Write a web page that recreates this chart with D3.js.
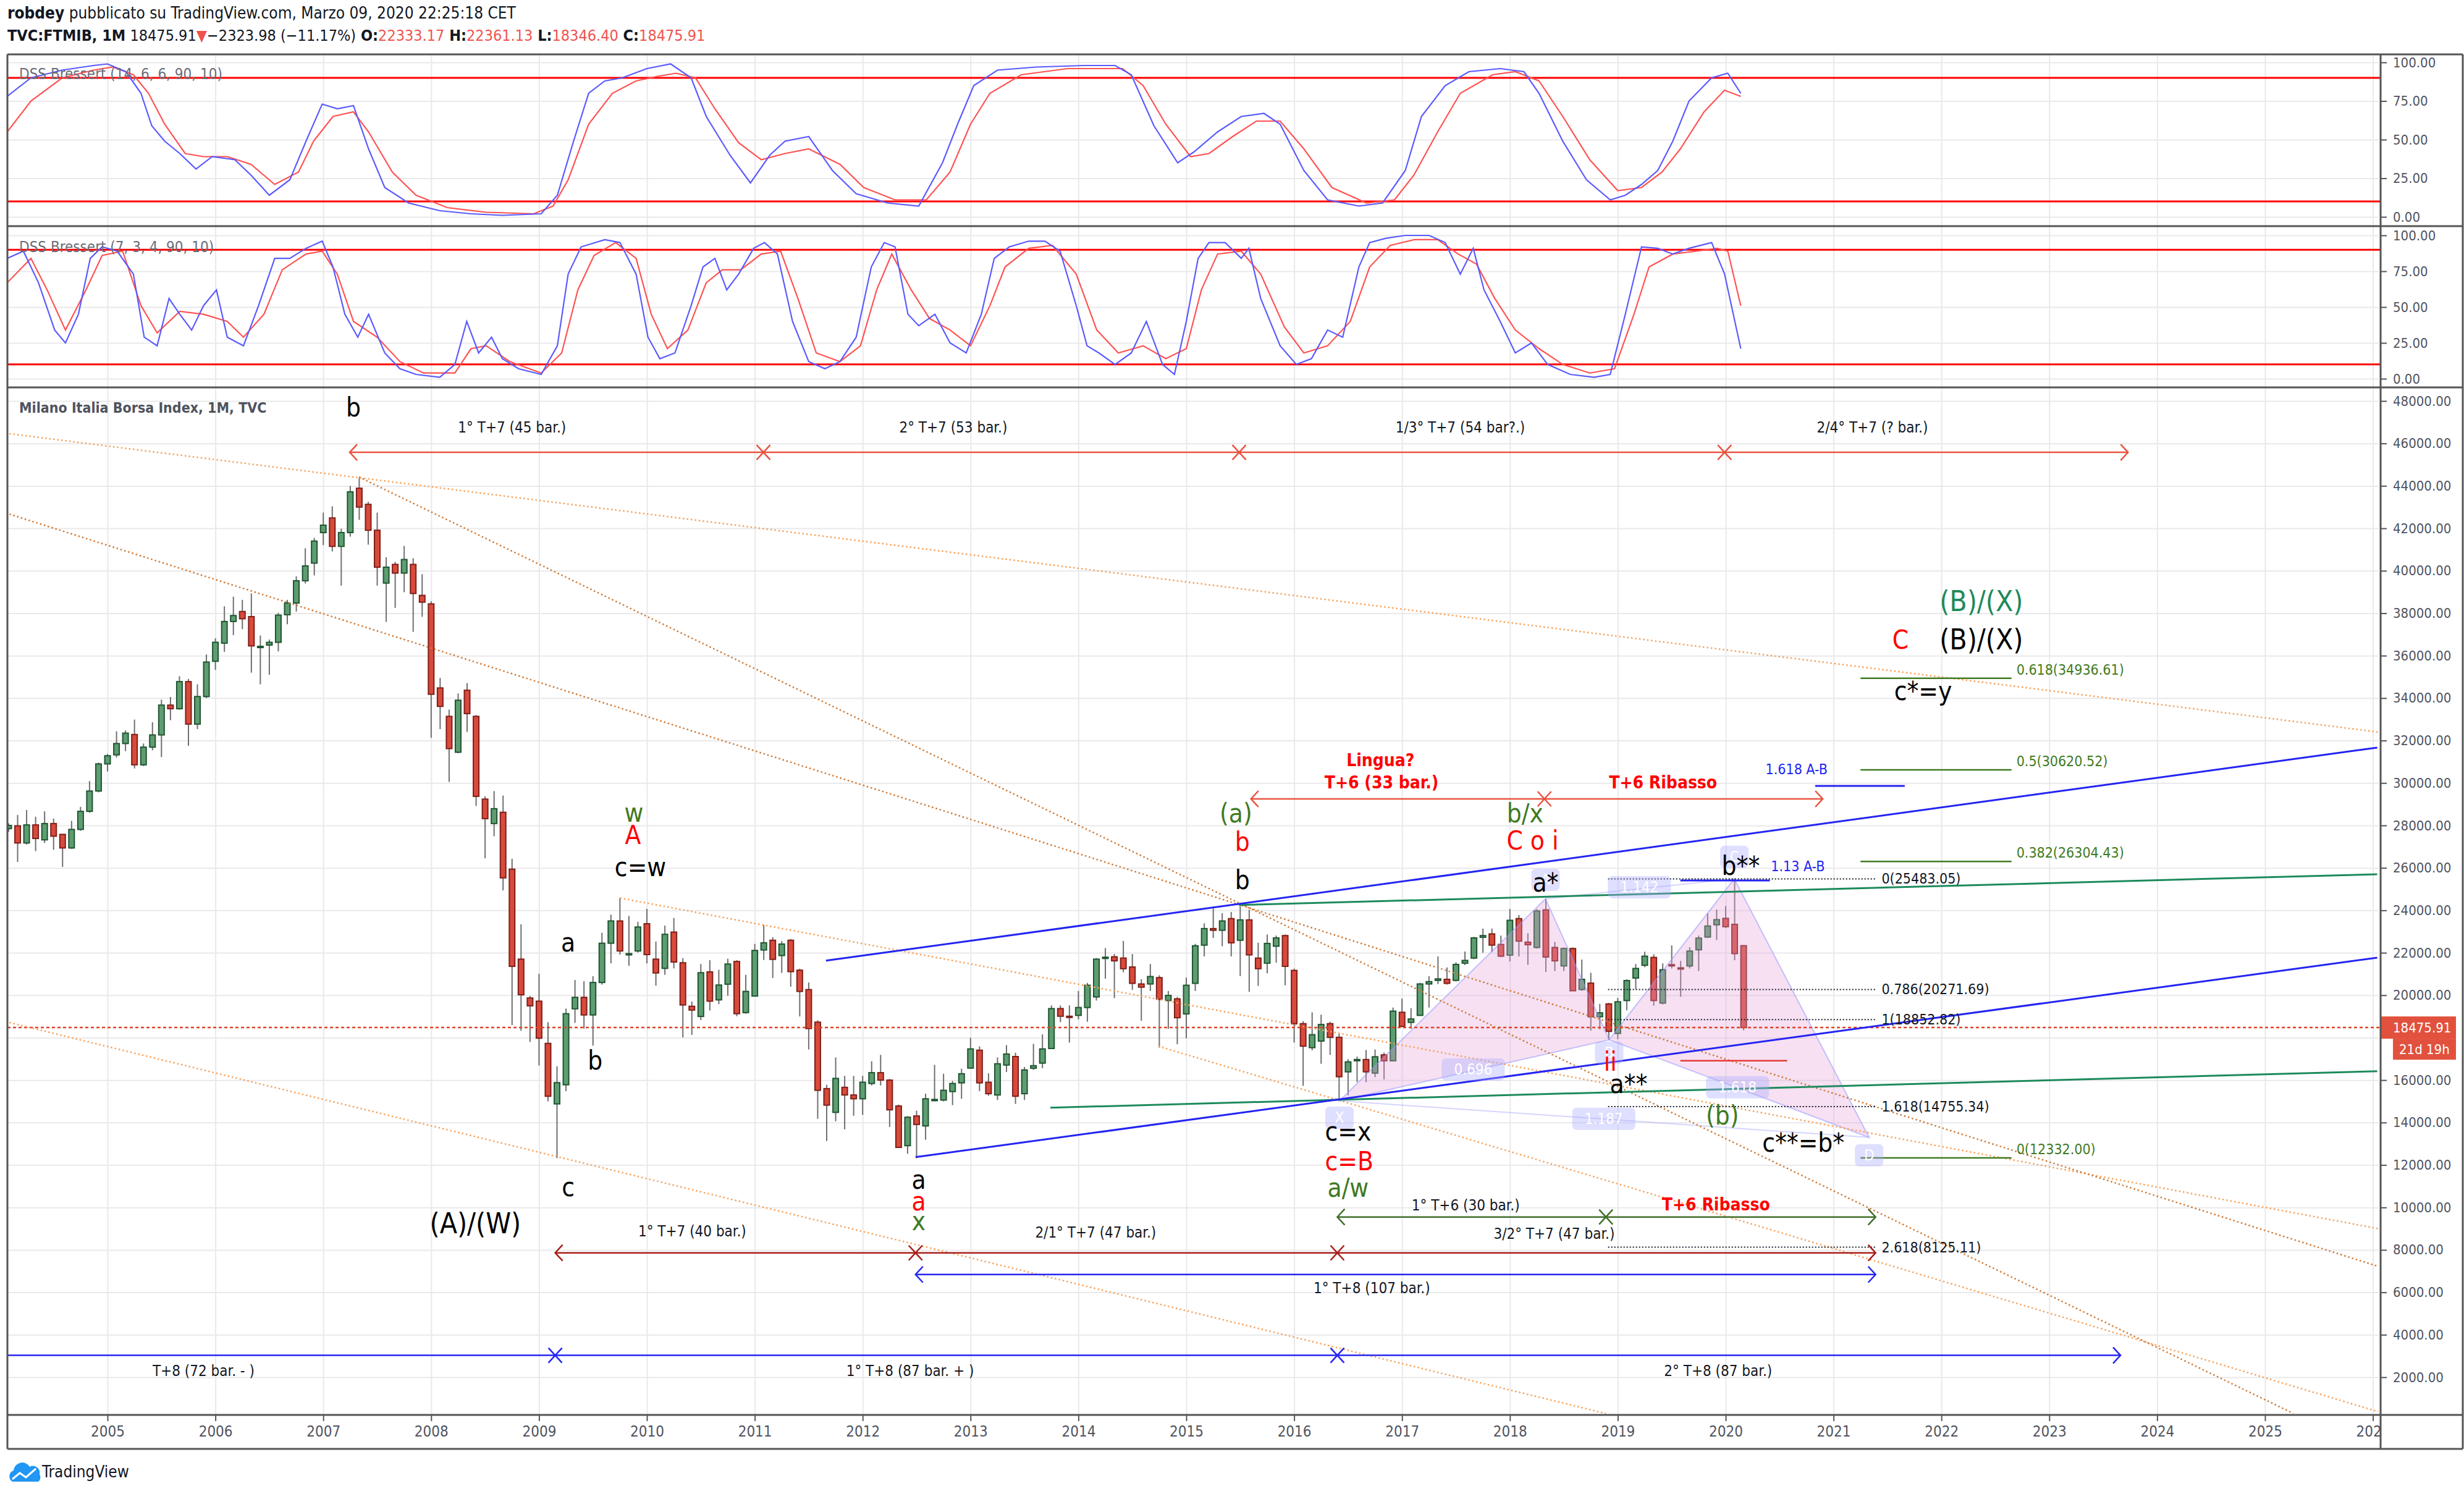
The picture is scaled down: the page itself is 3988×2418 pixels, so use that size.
<!DOCTYPE html>
<html>
<head>
<meta charset="utf-8">
<script src="https://cdnjs.cloudflare.com/ajax/libs/d3/7.8.5/d3.min.js"></script>
<style>
html, body { margin: 0; padding: 0; background: #fff; }
svg { display: block; font-family: "DejaVu Sans Condensed", "DejaVu Sans", sans-serif; }
</style>
</head>
<body>
<svg id="chart" width="3988" height="2418"></svg>
<script>
// ---- monthly FTSE MIB candles, Feb 2004 .. Mar 2020 ----
var firstMonth = [2004, 2];
var opens = [
  27850,27982,27173,28025,27322,28089,27578,26939,27812,28664,29622,
  30900,31327,31860,32285,30857,31690,32264,33670,33500,34777,32775,34074,
  35735,36590,37610,38080,37840,36420,36500,36630,37930,38480,39530,40360,
  41800,42490,41150,41800,43890,43130,41910,39420,40300,39890,40300,38840,
  38440,34480,33140,31450,34370,33140,29240,28090,28620,25940,21700,19870,
  19720,17730,14880,15780,19360,19900,19070,20600,22450,23500,21900,22085,
  23370,21700,21265,22975,21530,19480,19000,21100,19780,20520,21590,19180,
  19960,22130,22590,21870,22590,21180,20265,18730,15600,14480,15660,15300,
  15120,15840,16350,16000,14780,12910,14310,13840,15060,15060,15460,15870,
  16565,17410,15900,15300,16710,17110,15360,16560,16800,17490,19370,19010,
  19050,19420,19920,21750,21810,21750,21330,20530,20530,20830,19750,19830,
  19120,20560,22360,23140,23060,23610,22590,23550,21750,21510,22310,22810,
  21170,18660,17530,17840,18660,18015,16390,16950,16970,16330,17190,16910,
  19195,18720,19050,20530,20700,20750,20700,21510,21750,22730,22890,22390,
  21890,23610,22500,22250,24020,22250,21380,22200,20270,20570,18985,19590,
  18200,19750,20810,21410,21780,19630,21440,21290,21380,22140,22740,23320,
  23620,23340,22333.17];
var highs = [
  28100,28494,28728,28408,28664,28323,27600,28216,28877,30091,30964,
  31370,32434,32477,32988,31860,32860,33925,34053,35032,34904,34650,36055,
  36820,38330,38780,38630,38930,36950,36760,38020,38630,39740,41060,41550,
  42740,43040,41980,44000,44360,43250,42740,40640,40420,41170,40590,39840,
  38570,34950,33460,34220,34710,33200,29370,29620,29410,26430,23340,19960,
  21010,18730,16650,19370,20720,20660,20900,22940,23800,24580,23735,23460,
  24070,22530,23280,23640,21750,19700,21470,21650,21200,21720,21650,20960,
  22420,23310,22735,22550,22650,21250,20600,18820,15780,17070,16200,16200,
  16200,16890,17190,16050,14850,14300,14560,15360,16720,16300,15960,16540,
  17990,17590,16320,17070,17650,17290,16620,17710,18155,19520,19520,19520,
  20200,20580,21750,22220,21940,22560,21940,20750,21470,20940,20200,19920,
  20830,22420,23390,24090,23865,23920,24200,24030,22470,22860,22810,22860,
  21250,18780,19195,19085,18750,18190,16990,17110,17420,17440,17300,19420,
  19840,19390,20585,20900,21830,21310,21550,22060,22750,23140,23140,22810,
  24065,23780,22920,24060,24544,22510,22250,22250,21680,21055,19590,19640,
  19870,20750,21470,22050,21925,21500,22350,21620,22265,22810,23860,24040,
  24200,25483.05,22361.13];
var lows = [
  27700,26278,27100,26790,27173,26854,26044,26900,27750,28600,29560,
  30540,31200,31500,30687,30800,31540,31220,32960,33450,31753,32540,34000,
  35330,36180,36970,37250,35200,34650,35100,36200,37480,38080,39400,39780,
  41210,40910,39300,41610,42400,41230,39300,37590,38250,38990,37120,37830,
  32130,32540,30050,31400,32410,28920,26450,27490,24940,18590,18330,17800,
  16690,15000,12320,15480,18700,18430,17625,20500,21500,21915,21385,22010,
  21500,20450,20960,21265,18010,18130,18830,19280,19580,19975,19010,19130,
  19940,21660,20810,21050,20400,19000,17445,14180,13130,14060,13680,14320,
  14360,15750,15750,13790,12800,12530,12320,13190,15000,15000,14820,15120,
  16560,15480,15260,15060,16380,14880,15060,16480,16560,17490,18730,17770,
  18860,18750,19750,20780,19860,21080,20250,18800,20200,17530,18420,17690,
  17970,20200,21830,22700,22310,21830,20900,20160,20440,21030,21530,20470,
  17770,15730,17400,16770,17190,15025,15280,15910,15910,16140,16030,16880,
  18500,18420,19030,19420,20530,20500,20650,21420,21700,22000,22030,21800,
  21590,21830,21430,22200,21100,21140,21140,20200,20210,18330,18390,17900,
  17930,19290,20290,21320,19505,19570,21260,19930,21260,21140,22700,22600,
  23170,21650,18346.40];
var closes = [
  28000,27173,28025,27386,28089,27493,26939,27812,28664,29622,30900,
  31284,31860,32350,30857,31690,32264,33670,33500,34777,32775,34074,35700,
  36630,37610,37890,37740,36460,36440,36630,37910,38480,39530,40230,41400,
  42150,41150,41800,43720,43000,41910,40170,40170,39890,40530,38930,38520,
  34180,33610,31620,33900,33270,29370,28320,28790,25530,21360,20020,19500,
  17975,15240,15880,19130,19900,19070,20600,22450,23500,22085,21960,23215,
  21915,21050,22870,21565,19540,19300,21060,19720,20480,21470,19130,20180,
  22110,22470,21690,22410,21110,20180,18430,15520,14820,16080,15300,15120,
  15900,16350,16000,14600,12830,14250,13910,15120,15090,15520,15840,16300,
  17470,15870,15360,16770,17230,15240,16480,16680,17470,19370,19010,18975,
  19420,20470,21700,21790,21620,21250,20560,20380,20880,19810,19990,18940,
  20470,22330,23140,23060,23500,22470,23550,21900,21250,22440,22700,21360,
  18660,17600,18140,18620,18015,16160,16860,16970,16390,17100,16910,19250,
  18530,18880,20530,20640,20770,20560,21450,21640,22700,22810,22360,21840,
  23530,22550,22380,23970,21800,21620,22200,20210,20750,18985,19170,18295,
  19690,20690,21260,21840,19750,21200,21420,21280,22080,22690,23260,23560,
  23230,21960,18475.91];
var lastPrice = 18475.91;

// ---- DSS Bressert: [decimal year, value] ----
var dss1Blue = [[2004.07,78],[2004.29,90],[2004.58,95],[2004.87,98],[2005.00,99],[2005.17,94],[2005.31,80],[2005.41,59],
  [2005.53,49],[2005.67,41],[2005.82,31],[2005.97,39],[2006.18,37],[2006.33,27],[2006.50,14],[2006.69,24],[2006.84,49],
  [2006.99,73],[2007.13,70],[2007.28,72],[2007.42,44],[2007.57,19],[2007.79,9],[2008.08,4],[2008.37,2],[2008.66,1],
  [2009.02,2],[2009.17,14],[2009.32,49],[2009.46,80],[2009.61,88],[2009.77,90],[2010.00,96],[2010.22,99],[2010.41,90],
  [2010.55,65],[2010.77,40],[2010.96,22],[2011.14,40],[2011.28,49],[2011.50,52],[2011.72,30],[2011.94,15],[2012.23,9],
  [2012.52,7],[2012.74,35],[2012.88,60],[2013.03,85],[2013.25,95],[2013.61,97],[2014.05,98],[2014.34,98],[2014.49,92],
  [2014.70,59],[2014.92,35],[2015.07,42],[2015.29,55],[2015.51,65],[2015.72,67],[2015.87,60],[2016.09,30],[2016.31,11],
  [2016.60,7],[2016.82,9],[2017.03,30],[2017.18,65],[2017.40,85],[2017.62,94],[2017.91,96],[2018.13,94],[2018.27,80],
  [2018.49,49],[2018.71,24],[2018.93,11],[2019.07,14],[2019.22,21],[2019.37,30],[2019.51,49],[2019.66,75],[2019.87,90],
  [2020.02,93],[2020.14,80]];
var dss1Red = [[2004.07,55],[2004.29,75],[2004.58,90],[2004.87,95],[2005.05,97],[2005.24,92],[2005.38,80],[2005.53,60],
  [2005.72,41],[2005.89,39],[2006.11,39],[2006.33,34],[2006.55,21],[2006.77,29],[2006.91,49],[2007.09,65],[2007.28,68],
  [2007.42,55],[2007.64,29],[2007.86,14],[2008.15,6],[2008.51,3],[2008.95,2],[2009.13,7],[2009.27,24],[2009.46,60],
  [2009.68,80],[2009.90,88],[2010.10,91],[2010.27,93],[2010.45,90],[2010.63,70],[2010.85,48],[2011.06,37],[2011.28,41],
  [2011.50,44],[2011.79,34],[2012.01,19],[2012.30,11],[2012.59,11],[2012.81,29],[2013.00,60],[2013.18,80],[2013.47,92],
  [2013.90,96],[2014.41,96],[2014.60,85],[2014.81,60],[2015.04,39],[2015.21,41],[2015.43,52],[2015.65,62],[2015.87,62],
  [2016.09,44],[2016.35,19],[2016.67,9],[2016.93,11],[2017.11,27],[2017.33,55],[2017.54,80],[2017.84,92],[2018.05,94],
  [2018.27,88],[2018.49,65],[2018.74,37],[2019.00,17],[2019.22,19],[2019.41,29],[2019.58,44],[2019.80,68],[2019.99,82],
  [2020.14,78]];
var dss2Blue = [[2004.07,84],[2004.22,89],[2004.36,67],[2004.51,34],[2004.61,25],[2004.73,45],[2004.84,84],[2004.95,92],
  [2005.09,89],[2005.24,73],[2005.34,29],[2005.46,23],[2005.57,56],[2005.67,45],[2005.78,34],[2005.89,51],[2006.01,62],
  [2006.11,29],[2006.26,23],[2006.40,51],[2006.55,84],[2006.69,84],[2006.84,91],[2006.99,96],[2007.09,78],[2007.20,45],
  [2007.32,29],[2007.42,45],[2007.57,18],[2007.71,7],[2007.86,3],[2008.08,1],[2008.22,10],[2008.33,40],[2008.44,18],
  [2008.56,29],[2008.66,14],[2008.81,7],[2009.02,3],[2009.17,23],[2009.27,73],[2009.39,92],[2009.61,97],[2009.75,95],
  [2009.90,73],[2010.01,29],[2010.12,14],[2010.26,18],[2010.41,51],[2010.52,78],[2010.63,84],[2010.74,62],[2010.85,73],
  [2010.99,91],[2011.09,95],[2011.21,87],[2011.35,40],[2011.50,12],[2011.65,7],[2011.79,12],[2011.94,29],[2012.08,78],
  [2012.20,95],[2012.30,92],[2012.42,45],[2012.52,37],[2012.67,45],[2012.81,25],[2012.96,18],[2013.10,45],[2013.22,84],
  [2013.36,92],[2013.54,96],[2013.69,96],[2013.83,89],[2013.98,51],[2014.08,23],[2014.19,18],[2014.34,10],[2014.49,18],
  [2014.63,40],[2014.78,10],[2014.89,3],[2015.00,40],[2015.11,84],[2015.21,95],[2015.36,95],[2015.51,84],[2015.58,91],
  [2015.69,56],[2015.87,23],[2016.02,10],[2016.16,14],[2016.31,34],[2016.45,29],[2016.60,78],[2016.70,95],[2016.85,98],
  [2017.03,100],[2017.25,100],[2017.40,95],[2017.54,73],[2017.66,91],[2017.76,62],[2017.91,40],[2018.05,18],[2018.20,25],
  [2018.35,10],[2018.56,3],[2018.78,1],[2018.93,3],[2019.07,45],[2019.22,92],[2019.37,91],[2019.51,87],[2019.66,91],
  [2019.87,95],[2019.99,73],[2020.14,21]];
var dss2Red = [[2004.07,67],[2004.29,84],[2004.44,62],[2004.61,34],[2004.80,62],[2004.95,86],[2005.14,89],[2005.31,51],
  [2005.46,32],[2005.67,47],[2005.89,45],[2006.11,40],[2006.26,29],[2006.45,45],[2006.62,76],[2006.84,87],[2006.99,89],
  [2007.13,73],[2007.28,40],[2007.50,29],[2007.71,12],[2007.93,4],[2008.22,4],[2008.37,21],[2008.51,23],[2008.73,12],
  [2009.02,4],[2009.21,18],[2009.36,62],[2009.51,86],[2009.71,95],[2009.90,84],[2010.04,45],[2010.19,21],[2010.38,34],
  [2010.55,67],[2010.70,76],[2010.87,76],[2011.06,87],[2011.24,89],[2011.40,56],[2011.57,18],[2011.79,12],[2011.98,23],
  [2012.13,62],[2012.27,87],[2012.45,62],[2012.62,42],[2012.81,34],[2013.00,23],[2013.18,51],[2013.32,78],[2013.54,91],
  [2013.76,93],[2013.98,73],[2014.17,34],[2014.37,18],[2014.60,23],[2014.81,14],[2015.00,21],[2015.14,62],[2015.29,87],
  [2015.51,89],[2015.69,73],[2015.91,36],[2016.09,18],[2016.31,23],[2016.52,40],[2016.70,78],[2016.89,93],[2017.11,97],
  [2017.33,97],[2017.52,87],[2017.69,80],[2017.86,56],[2018.05,34],[2018.27,21],[2018.49,10],[2018.74,4],[2018.97,7],
  [2019.15,45],[2019.29,78],[2019.51,87],[2019.73,89],[2019.92,91],[2020.02,89],[2020.14,51]];
var dssLevels = [90, 10];

// ---- axis ticks ----
var yearTicks = d3.range(2005, 2027);
var priceTicks = d3.range(2000, 48001, 2000);
var oscTicks = [0, 25, 50, 75, 100];

// ---- drawings, in [year, price] ----
var lightDotted = [[[2004.09,46460],[2026.05,32400]], [[2004.09,18715],[2018.89,290]],
                   [[2014.74,17600],[2026.05,375]], [[2009.75,24580],[2026.05,9000]]];
var darkDotted = [[[2004.09,42670],[2026.05,7220]], [[2007.33,44420],[2025.26,300]]];
var blueLines = [[[2011.66,21630],[2026.04,31670]], [[2012.49,12370],[2026.04,21770]],
                 [[2020.83,29865],[2021.66,29865]], [[2019.58,25410],[2020.41,25410]]];
var tealLines = [[[2015.49,24250],[2026.04,25700]], [[2013.74,14700],[2026.04,16420]]];
var redShort = [[[2019.58,16910],[2020.57,16910]]];

var rangeStarts = [2007.245, 2015.60, 2009.15, 2012.49, 2016.40, 2003.15];
var rangeEnds = [2023.73, 2020.90, 2021.39, 2021.39, 2021.39, 2023.66];
var rangeLevels = [45580, 29250, 7860, 6840, 9550, 3030];
var rangeCrosses = [[2011.08, 2015.49, 2019.99], [2018.32], [2012.49, 2016.40], [], [2018.89], [2009.15, 2016.40]];

var fibGreenText = ["0.618(34936.61)", "0.5(30620.52)", "0.382(26304.43)", "0(12332.00)"];
var fibGreenValues = [34936.61, 30620.52, 26304.43, 12332.00];
var fibGreenSpan = [2021.25, 2022.65];
var fibBlackText = ["0(25483.05)", "0.786(20271.69)", "1(18852.82)", "1.618(14755.34)", "2.618(8125.11)"];
var fibBlackValues = [25483.05, 20271.69, 18852.82, 14755.34, 8125.11];
var fibBlackSpan = [2018.91, 2021.40];

var patternNames = ["X", "A", "B", "C", "D"];
var patternT = [2016.42, 2018.33, 2018.92, 2020.08, 2021.33];
var patternP = [15025, 24544, 17900, 25483, 13300];
var patternTagP = [14230, 25440, 17290, 26520, 12460];
var ratioText = ["0.696", "1.142", "1.187", "1.618"];
var ratioT = [2017.66, 2019.20, 2018.87, 2020.11];
var ratioP = [16500, 25090, 14175, 15660];

var blackLabels = [["b",2007.28,47680],["c=w",2009.94,26020],["a",2009.27,22470],["b",2009.52,16910],["c",2009.27,10940],
  ["(A)/(W)",2008.41,9255],["a",2012.52,11290],["b",2015.52,25410],["a*",2018.33,25320],["b**",2020.14,26080],
  ["c=x",2016.50,13560],["a**",2019.10,15820],["c**=b*",2020.72,13040],["(B)/(X)",2022.37,36760],["c*=y",2021.83,34320]];
var redLabels = [["A",2009.87,27535],["a",2012.52,10270],["b",2015.52,27215],["C o i",2018.21,27300],
  ["c=B",2016.51,12165],["ii",2018.93,16860],["C",2021.62,36760]];
var greenLabels = [["w",2009.88,28610],["x",2012.52,9340],["(a)",2015.46,28555],["b/x",2018.14,28555],
  ["a/w",2016.50,10915],["(b)",2019.97,14320]];
var tealLabels = [["(B)/(X)",2022.37,38570]];
var rangeLabels = [["1° T+7 (45 bar.)",2008.75,46750],["2° T+7 (53 bar.)",2012.84,46750],["1/3° T+7 (54 bar?.)",2017.54,46750],
  ["2/4° T+7 (? bar.)",2021.36,46750],["1° T+7 (40 bar.)",2010.42,8876],["2/1° T+7 (47 bar.)",2014.16,8818],
  ["3/2° T+7 (47 bar.)",2018.41,8760],["1° T+8 (107 bar.)",2016.72,6198],["T+8 (72 bar. - )",2005.89,2297],
  ["1° T+8 (87 bar. + )",2012.44,2297],["2° T+8 (87 bar.)",2019.93,2297],["1° T+6 (30 bar.)",2017.59,10099]];
var redBoldLabels = [["Lingua?",2016.80,31058],["T+6 (33 bar.)",2016.81,30010],["T+6 Ribasso",2019.42,30010],
  ["T+6 Ribasso",2019.91,10128]];
var blueLabels = [["1.618 A-B",2020.37,30650],["1.13 A-B",2020.42,26080]];

// ---- layout ----
var svg = d3.select("#chart");
var left = 12, plotRight = 3853, right = 3986;
var top1 = 88, top2 = 366, top3 = 627, bottom = 2290, frameBottom = 2345;

var x = d3.scaleLinear().domain([2004.072, 2026.054]).range([12, 3850]);
var y = d3.scaleLinear().domain([2000, 48000]).range([2229, 649]);
var y1 = d3.scaleLinear().domain([0, 100]).range([351, 101]);
var y2 = d3.scaleLinear().domain([0, 100]).range([613, 381]);

var defs = svg.append("defs");
function clip(id, x0, y0, w, h) {
  defs.append("clipPath").attr("id", id).append("rect").attr("x", x0).attr("y", y0).attr("width", w).attr("height", h);
}
clip("c1", left, top1, plotRight - left, top2 - top1);
clip("c2", left, top2, plotRight - left, top3 - top2);
clip("cm", left, top3, plotRight - left, bottom - top3);
clip("cx", left, bottom, plotRight - left, frameBottom - bottom);

// header
var head = svg.append("g").attr("fill", "#131722");
var h1 = head.append("text").attr("x", 12).attr("y", 30).style("font-size", "26px");
h1.append("tspan").attr("font-weight", "bold").text("robdey");
h1.append("tspan").text(" pubblicato su TradingView.com, Marzo 09, 2020 22:25:18 CET");
var h2 = head.append("text").attr("x", 12).attr("y", 66).style("font-size", "25px");
h2.append("tspan").attr("font-weight", "bold").text("TVC:FTMIB, 1M");
h2.append("tspan").text(" 18475.91");
h2.append("tspan").attr("fill", "#ef5350").text("▼");
h2.append("tspan").text("−2323.98 (−11.17%)");
[["O:", "22333.17"], ["H:", "22361.13"], ["L:", "18346.40"], ["C:", "18475.91"]].forEach(function (d) {
  h2.append("tspan").attr("font-weight", "bold").text(" " + d[0]);
  h2.append("tspan").attr("fill", "#ef5350").text(d[1]);
});

// grid
var grid = svg.append("g").attr("class", "grid");
grid.append("g").attr("transform", "translate(0," + bottom + ")")
  .call(d3.axisBottom(x).tickValues(yearTicks).tickSize(-(bottom - top1)).tickFormat(""));
grid.append("g").attr("transform", "translate(" + left + ",0)")
  .call(d3.axisLeft(y).tickValues(priceTicks).tickSize(-(3850 - left)).tickFormat(""));
grid.append("g").attr("transform", "translate(" + left + ",0)")
  .call(d3.axisLeft(y1).tickValues(oscTicks).tickSize(-(3850 - left)).tickFormat(""));
grid.append("g").attr("transform", "translate(" + left + ",0)")
  .call(d3.axisLeft(y2).tickValues(oscTicks).tickSize(-(3850 - left)).tickFormat(""));
grid.selectAll(".domain").remove();
grid.selectAll("line").attr("stroke", "#e9e9ec").attr("stroke-width", 2);

// oscillator panes
function oscPane(scale, clipId, blue, red, label, labelY) {
  var g = svg.append("g").attr("clip-path", "url(#" + clipId + ")");
  g.selectAll("line.lvl").data(dssLevels).enter().append("line")
    .attr("x1", left).attr("x2", plotRight)
    .attr("y1", function (d) { return scale(d); }).attr("y2", function (d) { return scale(d); })
    .attr("stroke", "#ff0000").attr("stroke-width", 3);
  var line = d3.line().x(function (d) { return x(d[0]); }).y(function (d) { return scale(d[1]); });
  g.append("path").datum(red).attr("d", line).attr("fill", "none").attr("stroke", "#ff5252").attr("stroke-width", 2.2);
  g.append("path").datum(blue).attr("d", line).attr("fill", "none").attr("stroke", "#5a5aff").attr("stroke-width", 2.2);
  svg.append("text").attr("x", 31).attr("y", labelY).attr("dominant-baseline", "central")
    .attr("fill", "#6a6d78").style("font-size", "24px").text(label);
}
oscPane(y1, "c1", dss1Blue, dss1Red, "DSS Bressert (14, 6, 6, 90, 10)", 120);
oscPane(y2, "c2", dss2Blue, dss2Red, "DSS Bressert (7, 3, 4, 90, 10)", 400);

// main pane
var main = svg.append("g").attr("clip-path", "url(#cm)");
var candles = opens.map(function (o, i) {
  var m = firstMonth[1] - 1 + i;
  return { t: firstMonth[0] + m / 12, o: o, h: highs[i], l: lows[i], c: closes[i] };
});
var cg = main.append("g");
cg.selectAll("line.wick").data(candles).enter().append("line")
  .attr("x1", function (d) { return x(d.t); }).attr("x2", function (d) { return x(d.t); })
  .attr("y1", function (d) { return y(d.h); }).attr("y2", function (d) { return y(d.l); })
  .attr("stroke", "#6f6f6f").attr("stroke-width", 2);
cg.selectAll("rect.body").data(candles).enter().append("rect")
  .attr("x", function (d) { return x(d.t) - 4.5; }).attr("width", 9)
  .attr("y", function (d) { return y(Math.max(d.o, d.c)); })
  .attr("height", function (d) { return Math.max(2, Math.abs(y(d.o) - y(d.c))); })
  .attr("fill", function (d) { return d.c >= d.o ? "#5e9d72" : "#d84a3c"; })
  .attr("stroke", function (d) { return d.c >= d.o ? "#1f5530" : "#7f1f18"; })
  .attr("stroke-width", 2);

// harmonic pattern
var P = patternT.map(function (t, i) { return [x(t), y(patternP[i])]; });
main.append("polygon").attr("points", [P[0], P[1], P[2]].join(" "))
  .attr("fill", "rgba(228,160,214,0.32)").attr("stroke", "rgba(150,150,255,0.55)").attr("stroke-width", 2);
main.append("polygon").attr("points", [P[2], P[3], P[4]].join(" "))
  .attr("fill", "rgba(228,160,214,0.32)").attr("stroke", "rgba(150,150,255,0.55)").attr("stroke-width", 2);
[[0, 4], [1, 3]].forEach(function (e) {
  main.append("line").attr("x1", P[e[0]][0]).attr("y1", P[e[0]][1]).attr("x2", P[e[1]][0]).attr("y2", P[e[1]][1])
    .attr("stroke", "rgba(150,150,255,0.4)").attr("stroke-width", 2);
});

// price line
main.append("line").attr("x1", left).attr("x2", plotRight).attr("y1", y(lastPrice)).attr("y2", y(lastPrice))
  .attr("stroke", "#e0442a").attr("stroke-width", 2.5).attr("stroke-dasharray", "5,4");

// trend lines
function drawLines(list, color, width, dash) {
  list.forEach(function (seg) {
    main.append("line").attr("x1", x(seg[0][0])).attr("y1", y(seg[0][1]))
      .attr("x2", x(seg[1][0])).attr("y2", y(seg[1][1]))
      .attr("stroke", color).attr("stroke-width", width).attr("stroke-dasharray", dash || null);
  });
}
drawLines(lightDotted, "#f6a35c", 2.5, "2.5,4");
drawLines(darkDotted, "#cf7a36", 2.5, "2.5,4");
drawLines(tealLines, "#1d8a5c", 3);
drawLines(blueLines, "#2424f2", 3);
drawLines(redShort, "#e53935", 2.5);

// fib levels
fibGreenValues.forEach(function (v, i) {
  main.append("line").attr("x1", x(fibGreenSpan[0])).attr("x2", x(fibGreenSpan[1]))
    .attr("y1", y(v)).attr("y2", y(v)).attr("stroke", "#3f7a22").attr("stroke-width", 2.5);
  main.append("text").attr("x", x(fibGreenSpan[1]) + 8).attr("y", y(v) - 6)
    .attr("fill", "#3f7a22").style("font-size", "23px").text(fibGreenText[i]);
});
fibBlackValues.forEach(function (v, i) {
  main.append("line").attr("x1", x(fibBlackSpan[0])).attr("x2", x(fibBlackSpan[1]))
    .attr("y1", y(v)).attr("y2", y(v)).attr("stroke", "#131722").attr("stroke-width", 2).attr("stroke-dasharray", "2,3");
  main.append("text").attr("x", x(fibBlackSpan[1]) + 8).attr("y", y(v)).attr("dominant-baseline", "central")
    .attr("fill", "#131722").style("font-size", "23px").text(fibBlackText[i]);
});

// date-range arrows
var rangeColors = ["#e8533f", "#e8533f", "#a81e19", "#2424f2", "#3f6f2a", "#2424f2"];
rangeStarts.forEach(function (t0, i) {
  var g = main.append("g").attr("stroke", rangeColors[i]).attr("stroke-width", 2.5).attr("fill", "none");
  var x0 = x(t0), x1 = x(rangeEnds[i]), yy = y(rangeLevels[i]);
  g.append("line").attr("x1", x0).attr("x2", x1).attr("y1", yy).attr("y2", yy);
  g.append("path").attr("d", "M" + (x0 + 12) + "," + (yy - 13) + "L" + x0 + "," + yy + "L" + (x0 + 12) + "," + (yy + 13));
  g.append("path").attr("d", "M" + (x1 - 12) + "," + (yy - 13) + "L" + x1 + "," + yy + "L" + (x1 - 12) + "," + (yy + 13));
  rangeCrosses[i].forEach(function (t) {
    var cx = x(t);
    g.append("path").attr("d", "M" + (cx - 11) + "," + (yy - 12) + "L" + (cx + 11) + "," + (yy + 12) +
      "M" + (cx - 11) + "," + (yy + 12) + "L" + (cx + 11) + "," + (yy - 12));
  });
});

// pattern tags
function tag(txt, t, p, w) {
  main.append("rect").attr("x", x(t) - w / 2).attr("y", y(p) - 18).attr("width", w).attr("height", 36).attr("rx", 7)
    .attr("fill", "rgba(170,170,255,0.38)");
  main.append("text").attr("x", x(t)).attr("y", y(p)).attr("text-anchor", "middle").attr("dominant-baseline", "central")
    .attr("fill", "#ffffff").style("font-size", "24px").text(txt);
}
patternNames.forEach(function (n, i) { tag(n, patternT[i], patternTagP[i], 46); });
ratioText.forEach(function (r, i) { tag(r, ratioT[i], ratioP[i], 102); });

// labels
function labels(list, color, size, weight, anchor) {
  list.forEach(function (d) {
    main.append("text").attr("x", x(d[1])).attr("y", y(d[2]))
      .attr("text-anchor", anchor || "middle").attr("dominant-baseline", "central")
      .attr("fill", color).attr("font-weight", weight || null)
      .style("font-size", (typeof size === "function" ? size(d[0]) : size) + "px").text(d[0]);
  });
}
function waveSize(s) { return s.indexOf(")/(") > 0 ? 46 : 42; }
labels(rangeLabels, "#131722", 24);
labels(redBoldLabels, "#ff0000", 28, "bold");
labels(blueLabels, "#2424f2", 23, null, "start");
labels(blackLabels, "#000000", waveSize);
labels(redLabels, "#ff0000", waveSize);
labels(greenLabels, "#3f7a22", waveSize);
labels(tealLabels, "#1d8a5c", waveSize);

svg.append("text").attr("x", 31).attr("y", 660).attr("dominant-baseline", "central")
  .attr("fill", "#50535e").attr("font-weight", "bold").style("font-size", "23px")
  .text("Milano Italia Borsa Index, 1M, TVC");

// axes
function styleAxis(g, size) {
  g.select(".domain").remove();
  g.selectAll("line").attr("stroke", "#555").attr("stroke-width", 2);
  g.selectAll("text").attr("fill", "#50535e").style("font-size", size + "px")
    .style("font-family", "'DejaVu Sans Condensed','DejaVu Sans',sans-serif");
}
var ay = svg.append("g").attr("transform", "translate(" + plotRight + ",0)")
  .call(d3.axisRight(y).tickValues(priceTicks).tickFormat(d3.format(".2f")).tickSize(10).tickPadding(10));
styleAxis(ay, 22);
[y1, y2].forEach(function (s) {
  var a = svg.append("g").attr("transform", "translate(" + plotRight + ",0)")
    .call(d3.axisRight(s).tickValues(oscTicks).tickFormat(d3.format(".2f")).tickSize(10).tickPadding(10));
  styleAxis(a, 22);
});
var ax = svg.append("g").attr("clip-path", "url(#cx)").append("g").attr("transform", "translate(0," + bottom + ")")
  .call(d3.axisBottom(x).tickValues(yearTicks).tickFormat(d3.format("d")).tickSize(10).tickPadding(8));
styleAxis(ax, 24);

// last price tags
svg.append("rect").attr("x", plotRight).attr("y", y(lastPrice) - 18).attr("width", 122).attr("height", 36).attr("fill", "#e2513d");
svg.append("text").attr("x", plotRight + 20).attr("y", y(lastPrice)).attr("dominant-baseline", "central")
  .attr("fill", "#fff").style("font-size", "22px").text(d3.format(".2f")(lastPrice));
svg.append("rect").attr("x", plotRight + 20).attr("y", y(lastPrice) + 18).attr("width", 102).attr("height", 34).attr("fill", "#e2513d");
svg.append("text").attr("x", plotRight + 30).attr("y", y(lastPrice) + 35).attr("dominant-baseline", "central")
  .attr("fill", "#fff").style("font-size", "22px").text("21d 19h");

// frame
var frame = svg.append("g").attr("stroke", "#555").attr("stroke-width", 3);
[top1, top2, top3, bottom, frameBottom].forEach(function (yy) {
  frame.append("line").attr("x1", left).attr("x2", right).attr("y1", yy).attr("y2", yy);
});
[left, plotRight, right].forEach(function (xx) {
  frame.append("line").attr("x1", xx).attr("x2", xx).attr("y1", top1).attr("y2", frameBottom);
});

// logo
var logo = svg.append("g").attr("transform", "translate(12,2364)");
logo.append("path").attr("fill", "#2196f3")
  .attr("d", "M8,34 A10,10 0 0 1 10,16 A14,14 0 0 1 36,10 A11,11 0 0 1 52,22 A9,9 0 0 1 50,34 Z");
logo.append("path").attr("fill", "none").attr("stroke", "#fff").attr("stroke-width", 3)
  .attr("d", "M8,30 L20,20 L30,27 L46,13");
svg.append("text").attr("x", 68).attr("y", 2382).attr("dominant-baseline", "central")
  .attr("fill", "#131722").style("font-size", "26px").text("TradingView");
</script>
</body>
</html>
